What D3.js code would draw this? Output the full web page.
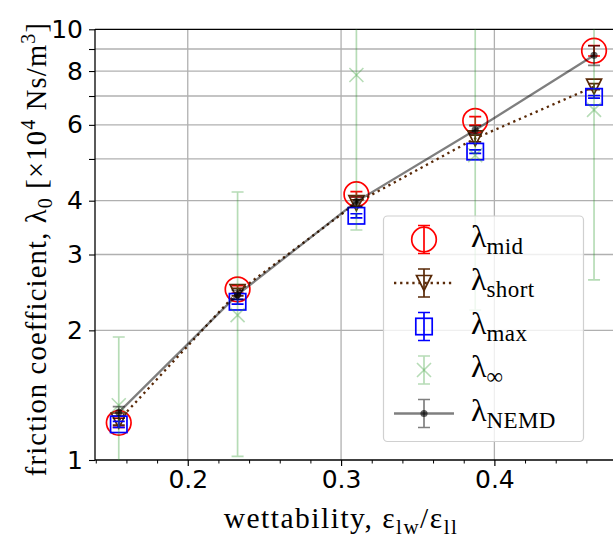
<!DOCTYPE html>
<html>
<head>
<meta charset="utf-8">
<script src="https://cdn.jsdelivr.net/npm/d3@7"></script>
<style>
  html, body { margin: 0; padding: 0; background: #fff; }
  svg { display: block; }
</style>
</head>
<body>
<svg id="chart" width="613" height="541"></svg>
<script>
// wettability values (x)
const wettability = [0.155, 0.2325, 0.31, 0.3875, 0.465];

// friction coefficient series, units of 1e4 Ns/m^3
const lambdaMid   = [1.22, 2.49, 4.14, 6.13, 8.92];
const errMid      = [0.03, 0.05, 0.06, 0.14, 0.25];

const lambdaShort = [1.235, 2.455, 3.95, 5.58, 7.36];
const errShort    = [0.03, 0.05, 0.07, 0.1, 0.12];

const lambdaMax   = [1.21, 2.33, 3.69, 5.2, 6.97];
const errMax      = [0.02, 0.03, 0.04, 0.05, 0.05];

const lambdaInf   = [1.34, 2.17, 7.83, 5.1, 6.5];
const infLower    = [0.9, 1.02, 3.42, 2.23, 2.62];
const infUpper    = [1.93, 4.19, 12.5, 11.0, 11.5];

const lambdaNEMD  = [1.29, 2.42, 3.98, 5.84, 8.7];
const errNEMD     = [0.04, 0.06, 0.1, 0.12, 0.45];

// axis ticks
const xTicks = [0.2, 0.3, 0.4];
const xMinorTicks = [0.14, 0.16, 0.18, 0.22, 0.24, 0.26, 0.28, 0.32, 0.34, 0.36, 0.38, 0.42, 0.44, 0.46, 0.48];
const yMajorTicks = [1, 10];
const yMinorTicks = [2, 3, 4, 5, 6, 7, 8, 9];
const yTickLabels = [1, 2, 3, 4, 6, 8, 10];

const legendItems = [
  { key: "mid", sub: "mid" },
  { key: "short", sub: "short" },
  { key: "max", sub: "max" },
  { key: "inf", sub: "∞" },
  { key: "nemd", sub: "NEMD" }
];

const svg = d3.select("#chart");
const plotLeft = 95, plotRight = 617.8, plotTop = 29.3, plotBottom = 460;

const x = d3.scaleLinear().domain([0.1395, 0.4805]).range([plotLeft, plotRight]);
const y = d3.scaleLog().domain([1, 10]).range([plotBottom, plotTop]);

svg.append("defs").append("clipPath").attr("id", "plotclip")
  .append("rect").attr("x", plotLeft).attr("y", plotTop)
  .attr("width", plotRight - plotLeft).attr("height", plotBottom - plotTop);

// grid
const grid = svg.append("g").attr("stroke", "#b0b0b0").attr("stroke-width", 1.3);
grid.selectAll("line.gy").data(yMinorTicks).join("line")
  .attr("x1", plotLeft).attr("x2", plotRight)
  .attr("y1", d => y(d)).attr("y2", d => y(d));
grid.selectAll("line.gx").data(xTicks).join("line")
  .attr("y1", plotTop).attr("y2", plotBottom)
  .attr("x1", d => x(d)).attr("x2", d => x(d));

// axes
const xAxis = d3.axisBottom(x).tickValues(xTicks).tickSize(6).tickPadding(4).tickFormat(d3.format(".1f"));
const gx = svg.append("g").attr("transform", `translate(0,${plotBottom})`).call(xAxis);
gx.select(".domain").remove();
gx.selectAll("text").attr("font-family", "DejaVu Sans").attr("font-size", 25).attr("fill", "#000");
gx.selectAll("line").attr("stroke-width", 1.2);

const xMinor = d3.axisBottom(x).tickValues(xMinorTicks).tickSize(3.5).tickFormat("");
const gxm = svg.append("g").attr("transform", `translate(0,${plotBottom})`).call(xMinor);
gxm.select(".domain").remove();
gxm.selectAll("line").attr("stroke-width", 1);

const yAxis = d3.axisLeft(y).tickValues(yMajorTicks.concat(yMinorTicks)).tickSize(6).tickPadding(6)
  .tickFormat(d => yTickLabels.includes(d) ? String(d) : "");
const gy = svg.append("g").attr("transform", `translate(${plotLeft},0)`).call(yAxis);
gy.select(".domain").remove();
gy.selectAll("text").attr("font-family", "DejaVu Sans").attr("font-size", 25).attr("fill", "#000");
gy.selectAll("line").attr("stroke-width", 1.1);

// spines
svg.append("line").attr("x1", plotLeft).attr("x2", plotLeft).attr("y1", plotTop).attr("y2", plotBottom)
  .attr("stroke", "#000").attr("stroke-width", 1.3);
svg.append("line").attr("x1", plotLeft).attr("x2", 613).attr("y1", plotBottom).attr("y2", plotBottom)
  .attr("stroke", "#000").attr("stroke-width", 1.3);
svg.append("line").attr("x1", plotLeft).attr("x2", 613).attr("y1", plotTop).attr("y2", plotTop)
  .attr("stroke", "#000").attr("stroke-width", 1.3);

const plot = svg.append("g").attr("clip-path", "url(#plotclip)");
const cap = 6;

function errorBars(g, lo, hi, color, opacity, width) {
  const eg = g.append("g").attr("stroke", color).attr("stroke-opacity", opacity).attr("stroke-width", width).attr("fill", "none");
  wettability.forEach((w, i) => {
    const cx = x(w), y0 = y(lo[i]), y1 = y(hi[i]);
    eg.append("path").attr("d", `M${cx},${y0}V${y1}M${cx - cap},${y0}H${cx + cap}M${cx - cap},${y1}H${cx + cap}`);
  });
}

const brown = "#5a2a08";
const green = "#2e9a2e";

// marker glyphs
function circleMarker(g, cx, cy) {
  g.append("circle").attr("cx", cx).attr("cy", cy).attr("r", 12.3)
    .attr("fill", "none").attr("stroke", "#ff0000").attr("stroke-width", 1.7);
}
function triMarker(g, cx, cy) {
  const s = 7.5;
  g.append("path").attr("d", `M${cx - s},${cy - s}H${cx + s}L${cx},${cy + s}Z`)
    .attr("fill", "none").attr("stroke", brown).attr("stroke-width", 1.7);
}
function squareMarker(g, cx, cy) {
  const s = 8.2;
  g.append("rect").attr("x", cx - s).attr("y", cy - s).attr("width", 2 * s).attr("height", 2 * s)
    .attr("fill", "none").attr("stroke", "#0000ff").attr("stroke-width", 1.7);
}
function xMarker(g, cx, cy) {
  const s = 7;
  g.append("path").attr("d", `M${cx - s},${cy - s}L${cx + s},${cy + s}M${cx - s},${cy + s}L${cx + s},${cy - s}`)
    .attr("stroke", green).attr("stroke-opacity", 0.35).attr("stroke-width", 1.6);
}
function dotMarker(g, cx, cy) {
  g.append("circle").attr("cx", cx).attr("cy", cy).attr("r", 3.6)
    .attr("fill", "#000").attr("fill-opacity", 0.6);
}

// lambda_mid
errorBars(plot, lambdaMid.map((v, i) => v - errMid[i]), lambdaMid.map((v, i) => v + errMid[i]), "#ff0000", 1, 1.7);
wettability.forEach((w, i) => circleMarker(plot, x(w), y(lambdaMid[i])));

// lambda_short with dotted line
const lineGen = d3.line().x((d, i) => x(wettability[i])).y(d => y(d));
plot.append("path").datum(lambdaShort).attr("d", lineGen)
  .attr("fill", "none").attr("stroke", brown).attr("stroke-width", 2.3).attr("stroke-dasharray", "2.3,3.8");
errorBars(plot, lambdaShort.map((v, i) => v - errShort[i]), lambdaShort.map((v, i) => v + errShort[i]), brown, 1, 1.7);
wettability.forEach((w, i) => triMarker(plot, x(w), y(lambdaShort[i])));

// lambda_max
errorBars(plot, lambdaMax.map((v, i) => v - errMax[i]), lambdaMax.map((v, i) => v + errMax[i]), "#0000ff", 1, 1.7);
wettability.forEach((w, i) => squareMarker(plot, x(w), y(lambdaMax[i])));

// lambda_inf
errorBars(plot, infLower, infUpper, green, 0.35, 1.7);
wettability.forEach((w, i) => xMarker(plot, x(w), y(lambdaInf[i])));

// lambda_NEMD
plot.append("path").datum(lambdaNEMD).attr("d", lineGen)
  .attr("fill", "none").attr("stroke", "#000").attr("stroke-opacity", 0.5).attr("stroke-width", 2.3);
errorBars(plot, lambdaNEMD.map((v, i) => v - errNEMD[i]), lambdaNEMD.map((v, i) => v + errNEMD[i]), "#000", 0.5, 1.7);
wettability.forEach((w, i) => dotMarker(plot, x(w), y(lambdaNEMD[i])));

// legend
const lg = svg.append("g");
lg.append("rect").attr("x", 383.5).attr("y", 216).attr("width", 200).attr("height", 225.5)
  .attr("rx", 4).attr("fill", "#fff").attr("fill-opacity", 0.8).attr("stroke", "#d0d0d0").attr("stroke-width", 1.2);

const hx = 424, rowY0 = 239.5, rowStep = 43.5;
legendItems.forEach((item, i) => {
  const cy = rowY0 + i * rowStep;
  const g = lg.append("g");
  const eb = (color, op) => g.append("path")
    .attr("d", `M${hx},${cy - 14}V${cy + 14}M${hx - cap},${cy - 14}H${hx + cap}M${hx - cap},${cy + 14}H${hx + cap}`)
    .attr("stroke", color).attr("stroke-opacity", op).attr("stroke-width", 1.7).attr("fill", "none");
  if (item.key === "mid") { eb("#ff0000", 1); circleMarker(g, hx, cy); }
  if (item.key === "short") {
    g.append("line").attr("x1", hx - 30).attr("x2", hx + 30).attr("y1", cy).attr("y2", cy)
      .attr("stroke", brown).attr("stroke-width", 2.3).attr("stroke-dasharray", "2.3,3.8");
    eb(brown, 1); triMarker(g, hx, cy);
  }
  if (item.key === "max") { eb("#0000ff", 1); squareMarker(g, hx, cy); }
  if (item.key === "inf") { eb(green, 0.35); xMarker(g, hx, cy); }
  if (item.key === "nemd") {
    g.append("line").attr("x1", hx - 30).attr("x2", hx + 30).attr("y1", cy).attr("y2", cy)
      .attr("stroke", "#000").attr("stroke-opacity", 0.5).attr("stroke-width", 2.3);
    eb("#000", 0.5); dotMarker(g, hx, cy);
  }
  const t = g.append("text").attr("x", 471).attr("y", cy + 7)
    .attr("font-family", "Liberation Serif").attr("font-size", 32).attr("fill", "#000");
  t.append("tspan").text("λ");
  t.append("tspan").attr("dy", 7).attr("font-size", 23).attr("letter-spacing", 0.4).text(item.sub);
});

// axis titles
const xl = svg.append("text").attr("x", 341).attr("y", 528).attr("text-anchor", "middle")
  .attr("font-family", "Liberation Serif").attr("font-size", 29.5).attr("letter-spacing", 1.5).attr("fill", "#000");
xl.append("tspan").text("wettability, ε");
xl.append("tspan").attr("dy", 6).attr("font-size", 21).text("lw");
xl.append("tspan").attr("dy", -6).text("/ε");
xl.append("tspan").attr("dy", 6).attr("font-size", 21).text("ll");

const yl = svg.append("text").attr("transform", "translate(46,249) rotate(-90)").attr("text-anchor", "middle")
  .attr("font-family", "Liberation Serif").attr("font-size", 28.5).attr("letter-spacing", 1.2).attr("fill", "#000");
yl.append("tspan").text("friction coefficient, λ");
yl.append("tspan").attr("dy", 6).attr("font-size", 20).text("0");
yl.append("tspan").attr("dy", -6).text(" [×10");
yl.append("tspan").attr("dy", -11).attr("font-size", 20).text("4");
yl.append("tspan").attr("dy", 11).text(" Ns/m");
yl.append("tspan").attr("dy", -11).attr("font-size", 20).text("3");
yl.append("tspan").attr("dy", 11).text("]");
</script>
</body>
</html>
